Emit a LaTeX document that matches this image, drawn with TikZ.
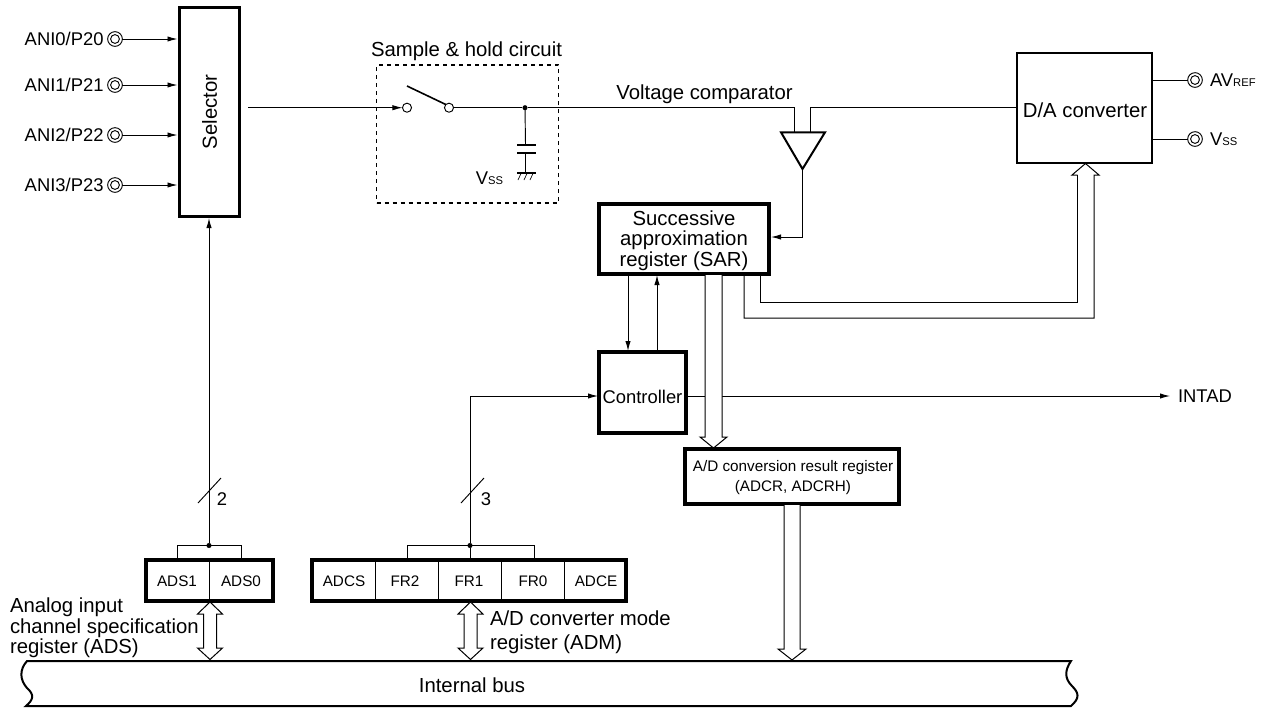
\documentclass[tikz,border=0pt]{standalone}
\usepackage{fontspec}
\setmainfont{Liberation Sans}
\usetikzlibrary{arrows.meta}
\newcommand{\mainsz}{\fontsize{15.25pt}{15pt}\selectfont}
\newcommand{\pinsz}{\fontsize{13.8pt}{15pt}\selectfont}
\newcommand{\smallsz}{\fontsize{11.45pt}{15pt}\selectfont}
\newcommand{\subsz}{\fontsize{8.4pt}{10pt}\selectfont}
\newcommand{\subsc}[1]{{\subsz #1}}
\tikzset{
  every node/.style={inner sep=0pt,outer sep=0pt,font=\mainsz},
  sz/.style 2 args={minimum width=#1*0.75pt,minimum height=#2*0.75pt},
  boxthick/.style={draw,line width=2.4pt,fill=white,anchor=north west},
  boxthin/.style={draw,line width=1.2pt,fill=white,anchor=north west},
  wire/.style={line width=0.7pt},
  arr/.style={wire,-{Latex[length=7.5pt,width=4pt]}},
  pin/.style={circle,draw,line width=0.7pt,minimum size=11pt,fill=white,
    path picture={\draw[line width=0.7pt] (path picture bounding box.center) circle (3.3pt);}},
  opencirc/.style={circle,draw,line width=0.7pt,minimum size=6.8pt,fill=white},
  dotn/.style={circle,fill=black,minimum size=3.8pt},
  hollow/.style={draw,line width=0.75pt,fill=white,line join=miter},
  lbl/.style={anchor=west},
  pinlbl/.style={font=\pinsz},
  regcell/.style={font=\smallsz}
}
\begin{document}
\begin{tikzpicture}[x=0.75pt,y=-0.75pt,line cap=butt]
\useasboundingbox (0,0) rectangle (1267,708);
% Selector
\node[boxthick,sz={60}{209}] (sel) at (179.5,7.5) {};
\node[rotate=90] (seltxt) at (209.5,112) {Selector};
% pins
\foreach \n/\yy/\t in {0/39/ANI0\slash P20,1/85/ANI1\slash P21,2/135/ANI2\slash P22,3/185/ANI3\slash P23}{
  \node[pin] (p\n) at (115,\yy) {};
  \node[anchor=east,pinlbl] (pl\n) at (103.5,\yy) {\t};
  \coordinate (s\n) at (177.5,\yy);
  \draw[arr] (p\n) -- (s\n);
}
% S&H
\node (shl) at (466.5,51.5) {Sample \& hold circuit};
\node[draw,dashed,line width=0.8pt,sz={182}{138},anchor=north west] (shbox) at (376.5,65) {};
\node[opencirc] (sw1) at (407,107.7) {};
\node[opencirc] (sw2) at (449,107.7) {};
\coordinate (selout) at (248,107.7);
\coordinate (swarm) at (407,86);
\draw[arr] (selout) -- (sw1);
\draw[line width=1.2pt] (swarm) -- (sw2.north west);
\node[dotn] (j1) at (525,107.7) {};
\coordinate (cmpa) at (794,107.7);
\coordinate (cmpb) at (810,107.7);
\draw[wire] (sw2) -- (j1);
\draw[wire] (j1) -- (cmpa) -- (794,132);
% capacitor
\coordinate (cp1) at (525.5,144.5);
\coordinate (cp2) at (525.5,153);
\coordinate (gnd) at (525.5,173);
\draw[wire] (j1) -- (cp1);
\draw[wire] (cp2) -- (gnd);
\draw[line width=1.5pt] (517,144.5) -- (536,144.5);
\draw[line width=1.5pt] (517,153) -- (536,153);
\draw[line width=1.3pt] (517,173) -- (536,173);
\foreach \x in {521,527,533}{\draw[line width=0.5pt] (\x,173.5) -- (\x-3,180);}
\node[pinlbl] (vss1) at (489.5,178.5) {V\subsc{SS}};
\node (vc) at (704.5,94) {Voltage comparator};
% comparator
\coordinate (ta) at (781,132.3);
\coordinate (tb) at (825,132.3);
\coordinate (tc) at (802.5,169);
\draw[line width=1.5pt,fill=white,line join=miter] (ta) -- (tb) -- (tc) -- cycle;
% D/A
\node[boxthin,sz={135}{110}] (da) at (1017,53) {};
\node (datxt) at (1085,110) {D/A converter};
\draw[wire] (810,132) -- (cmpb) -- (da.west |- cmpb);
\node[pin] (pa) at (1195,80) {};
\node[pin] (pv) at (1195,139) {};
\draw[wire] (da.east |- pa) -- (pa);
\draw[wire] (da.east |- pv) -- (pv);
\node[lbl,pinlbl] (al) at (1210,80) {AV\subsc{REF}};
\node[lbl,pinlbl] (vl) at (1210,139.5) {V\subsc{SS}};
% SAR
\node[boxthick,sz={170}{70}] (sar) at (599,204) {};
\node[align=center,font=\mainsz] (sartxt) at (684,240.5) {Successive\\[0.3pt]approximation\\[0.3pt]register (SAR)};
\coordinate (sarin) at (802.5,237);
\draw[wire,-{Latex[length=7.5pt,width=4pt]}] (tc) -- (sarin) -- (771,237);
% Controller
\node[boxthick,sz={87}{81}] (ctl) at (599,352) {};
\node[pinlbl] (ctltxt) at (642.5,397) {Controller};
\draw[arr] (628,275) -- (628,351);
\draw[arr] (657,352) -- (657,275);
% Result
\node[boxthick,sz={214}{55}] (res) at (685,449) {};
\node[align=center,font=\smallsz] (restxt) at (793,477.5) {A/D conversion result register\\[0pt](ADCR, ADCRH)};
% INTAD
\coordinate (intarr) at (1170,396);
\draw[arr] (ctl.east |- intarr) -- (intarr);
\node[lbl,pinlbl] (intl) at (1178,396) {INTAD};
% hollow arrows
\fill[white] (705,275) rectangle (722,437);
\draw[hollow] (705,275) -- (705,437) -- (700,437) -- (713.5,448) -- (727,437) -- (722,437) -- (722,275);
\draw[hollow] (784,505) -- (784,649) -- (778,649) -- (792,660) -- (806,649) -- (800,649) -- (800,505);
% SAR to D/A
\draw[wire] (1077.5,175) -- (1077.5,302) -- (760,302) -- (760,275);
\draw[hollow,fill=none] (744,275) -- (744,318) -- (1094,318) -- (1094,175) -- (1099,175) -- (1085.5,163.5) -- (1072,175) -- (1077.5,175);
% ADS
\node[boxthick,sz={127}{41}] (ads) at (146,560) {};
\draw[line width=0.7pt] (209,561) -- (209,601);
\node[regcell] (ads1) at (177,581.5) {ADS1};
\node[regcell] (ads0) at (241,581.5) {ADS0};
\node[dotn] (j2) at (209,545.5) {};
\draw[wire] (177.5,560) -- (177.5,545.5) -- (241,545.5) -- (241,560);
\coordinate (seldn) at (209,218);
\draw[wire,-{Latex[length=7.5pt,width=4pt]}] (j2) -- (seldn);
\draw[wire] (198,503) -- (221,478);
\node[pinlbl] (n2) at (222,499) {2};
% ADM
\node[boxthick,sz={314}{41}] (adm) at (312,560) {};
\foreach \x in {375.5,438.5,501.5,564.5}{\draw[line width=0.7pt] (\x,561) -- (\x,601);}
\node[regcell] (r1) at (344,581.5) {ADCS};
\node[regcell] (r2) at (405,581.5) {FR2};
\node[regcell] (r3) at (469,581.5) {FR1};
\node[regcell] (r4) at (533,581.5) {FR0};
\node[regcell] (r5) at (596,581.5) {ADCE};
\node[dotn] (j3) at (470,545.5) {};
\draw[wire] (407.5,560) -- (407.5,545.5) -- (534,545.5) -- (534,560);
\draw[wire] (470,560) -- (j3);
\coordinate (bend) at (470,396);
\draw[wire,-{Latex[length=7.5pt,width=4pt]}] (j3) -- (bend) -- (598,396);
\draw[wire] (461,503) -- (484,478);
\node[pinlbl] (n3) at (486,499) {3};
% double hollow
\foreach \c in {210,470.5}{
  \draw[hollow] (\c-6.5,614) -- (\c-12.5,614) -- (\c,602) -- (\c+12.5,614) -- (\c+6.5,614) -- (\c+6.5,648) -- (\c+12.5,648) -- (\c,659.5) -- (\c-12.5,648) -- (\c-6.5,648) -- cycle;
}
\node[lbl,align=left] (adsl) at (10,628) {Analog input\\[0.3pt]channel specification\\[0.3pt]register (ADS)};
\node[lbl,align=left] (adml) at (490,632) {A/D converter mode\\[3pt]register (ADM)};
% Bus
\draw[line width=1.5pt] (27,661) .. controls (19,670) and (20,680) .. (27,688) .. controls (35,695) and (33,700) .. (26,706)
  -- (1071,706) .. controls (1080,698) and (1079,693) .. (1072,686) .. controls (1064,678) and (1065,670) .. (1071,661) -- cycle;
\node (bus) at (472,685.5) {Internal bus};
\end{tikzpicture}
\end{document}
